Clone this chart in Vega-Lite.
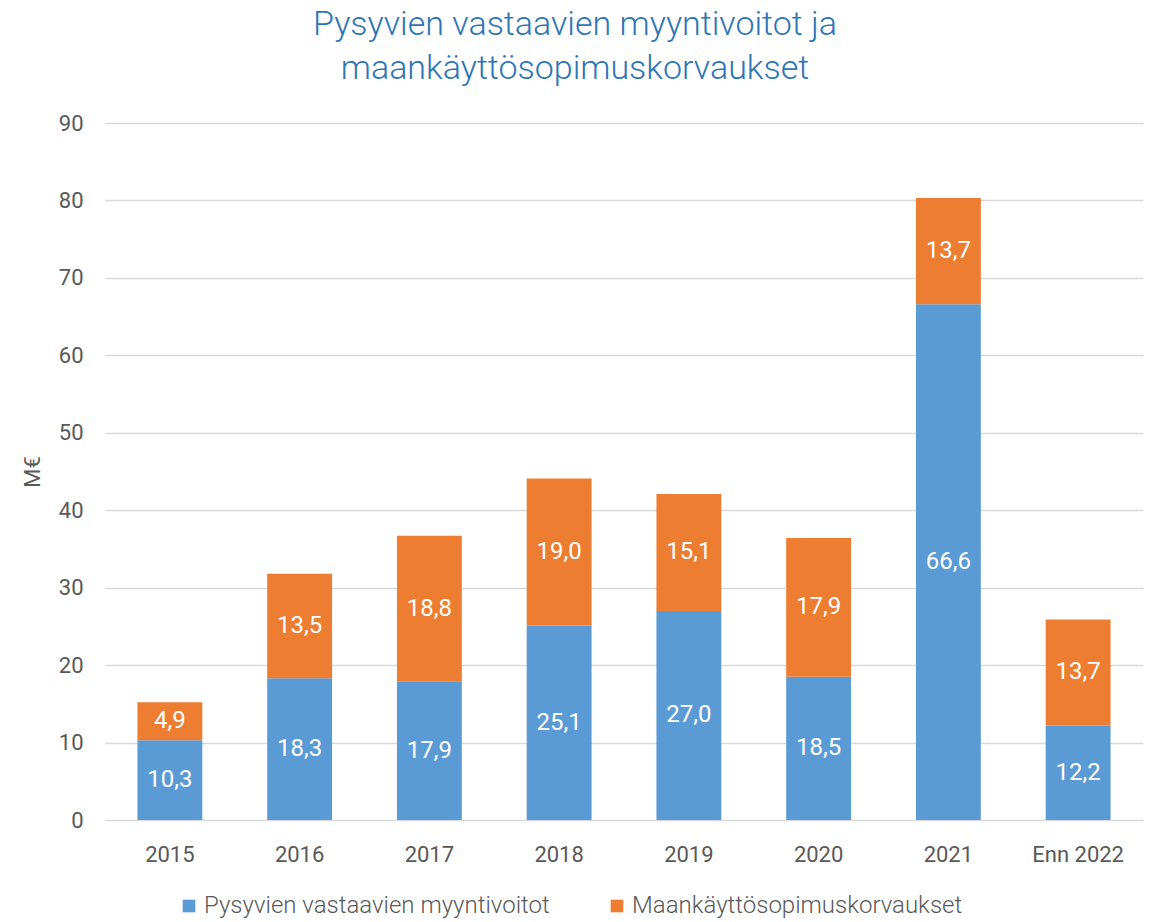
{
  "$schema": "https://vega.github.io/schema/vega-lite/v6.json",
  "autosize": "none",
  "width": 1038,
  "height": 697,
  "padding": {"left": 105, "top": 123, "right": 6, "bottom": 102},
  "background": "white",
  "config": {
    "locale": {"number": {"decimal": ",", "thousands": " ", "grouping": [3], "currency": ["", " €"]}},
    "view": {"stroke": null},
    "font": "Roboto"
  },
  "title": {
    "text": ["Pysyvien vastaavien myyntivoitot ja", "maankäyttösopimuskorvaukset"],
    "fontSize": 34,
    "font": "Roboto",
    "fontWeight": 300,
    "color": "#2E75B6",
    "anchor": "middle",
    "dx": -49,
    "offset": 26,
    "lineHeight": 44
  },
  "data": {
    "values": [
      {"year": "2015", "series": "Pysyvien vastaavien myyntivoitot", "value": 10.3, "order": 1},
      {"year": "2015", "series": "Maankäyttösopimuskorvaukset", "value": 4.9, "order": 2},
      {"year": "2016", "series": "Pysyvien vastaavien myyntivoitot", "value": 18.3, "order": 1},
      {"year": "2016", "series": "Maankäyttösopimuskorvaukset", "value": 13.5, "order": 2},
      {"year": "2017", "series": "Pysyvien vastaavien myyntivoitot", "value": 17.9, "order": 1},
      {"year": "2017", "series": "Maankäyttösopimuskorvaukset", "value": 18.8, "order": 2},
      {"year": "2018", "series": "Pysyvien vastaavien myyntivoitot", "value": 25.1, "order": 1},
      {"year": "2018", "series": "Maankäyttösopimuskorvaukset", "value": 19.0, "order": 2},
      {"year": "2019", "series": "Pysyvien vastaavien myyntivoitot", "value": 27.0, "order": 1},
      {"year": "2019", "series": "Maankäyttösopimuskorvaukset", "value": 15.1, "order": 2},
      {"year": "2020", "series": "Pysyvien vastaavien myyntivoitot", "value": 18.5, "order": 1},
      {"year": "2020", "series": "Maankäyttösopimuskorvaukset", "value": 17.9, "order": 2},
      {"year": "2021", "series": "Pysyvien vastaavien myyntivoitot", "value": 66.6, "order": 1},
      {"year": "2021", "series": "Maankäyttösopimuskorvaukset", "value": 13.7, "order": 2},
      {"year": "Enn 2022", "series": "Pysyvien vastaavien myyntivoitot", "value": 12.2, "order": 1},
      {"year": "Enn 2022", "series": "Maankäyttösopimuskorvaukset", "value": 13.7, "order": 2}
    ]
  },
  "transform": [
    {"stack": "value", "groupby": ["year"], "sort": [{"field": "order", "order": "ascending"}], "as": ["v0", "v1"]},
    {"calculate": "(datum.v0 + datum.v1) / 2", "as": "mid"}
  ],
  "encoding": {
    "x": {
      "field": "year",
      "type": "nominal",
      "sort": null,
      "scale": {"paddingInner": 0.5, "paddingOuter": 0.25},
      "axis": {
        "title": null,
        "labelAngle": 0,
        "labelFontSize": 22,
        "labelColor": "#595959",
        "labelFont": "Roboto",
        "labelPadding": 24,
        "ticks": false,
        "domain": false
      }
    }
  },
  "layer": [
    {
      "mark": {"type": "bar"},
      "encoding": {
        "y": {
          "field": "v0",
          "type": "quantitative",
          "scale": {"domain": [0, 90]},
          "axis": {
            "title": "M€",
            "titleFontSize": 22,
            "titleFontWeight": "normal",
            "titleColor": "#595959",
            "titleFont": "Roboto",
            "titlePadding": 14,
            "values": [0, 10, 20, 30, 40, 50, 60, 70, 80, 90],
            "labelFontSize": 22,
            "labelColor": "#595959",
            "labelFont": "Roboto",
            "labelPadding": 22,
            "ticks": false,
            "domain": false,
            "gridColor": "#D9D9D9",
            "gridWidth": 1.5
          }
        },
        "y2": {"field": "v1"},
        "color": {
          "field": "series",
          "type": "nominal",
          "sort": ["Pysyvien vastaavien myyntivoitot", "Maankäyttösopimuskorvaukset"],
          "scale": {
            "domain": ["Pysyvien vastaavien myyntivoitot", "Maankäyttösopimuskorvaukset"],
            "range": ["#5B9BD5", "#ED7D31"]
          },
          "legend": {
            "title": null,
            "orient": "none",
            "direction": "horizontal",
            "legendX": 72,
            "legendY": 771,
            "symbolType": "square",
            "symbolSize": 160,
            "symbolStrokeWidth": 0,
            "symbolOpacity": 1,
            "labelFontSize": 24,
            "labelColor": "#595959",
            "labelFont": "Roboto",
            "labelFontWeight": 300,
            "labelLimit": 500,
            "columnPadding": 55,
            "labelOffset": 3
          }
        }
      }
    },
    {
      "mark": {"type": "text", "color": "white", "fontSize": 24, "font": "Roboto", "baseline": "middle"},
      "encoding": {
        "y": {"field": "mid", "type": "quantitative"},
        "text": {"field": "value", "type": "quantitative", "format": ".1f"}
      }
    }
  ]
}
